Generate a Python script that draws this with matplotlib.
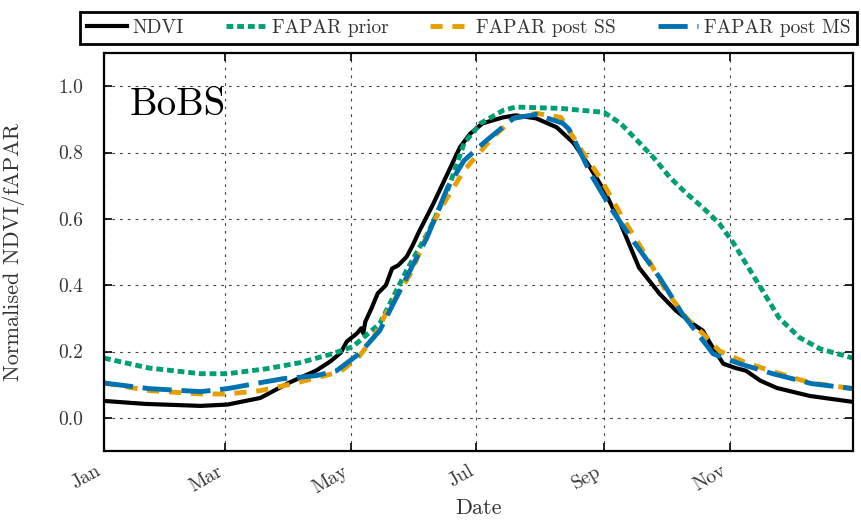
import numpy as np
import matplotlib
matplotlib.use("Agg")
import matplotlib.pyplot as plt

#--------------------------------------------------------------------------------------------------
# values (day of year, normalised value)
ndvi_day = [0, 20, 47, 60, 76, 90, 103, 110, 115, 118, 123, 125, 126, 127, 130, 133, 137, 140, 143,
            147, 150, 153, 160, 167, 173, 178, 184, 194, 200, 210, 220, 228, 235, 243, 251, 260, 270,
            278, 286, 291, 296, 301, 307, 312, 319, 327, 343, 364]
ndvi = [0.051, 0.042, 0.036, 0.040, 0.060, 0.106, 0.142, 0.170, 0.196, 0.230, 0.255, 0.270, 0.255,
        0.290, 0.330, 0.375, 0.400, 0.450, 0.460, 0.485, 0.520, 0.560, 0.645, 0.737, 0.816, 0.857,
        0.888, 0.906, 0.912, 0.903, 0.876, 0.830, 0.767, 0.686, 0.586, 0.453, 0.374, 0.323, 0.284,
        0.263, 0.210, 0.163, 0.150, 0.142, 0.112, 0.090, 0.066, 0.048]

prior_day = [0, 22, 47, 60, 79, 95, 111, 121, 134, 147, 158, 167, 175, 183, 194, 200, 222, 243,
             251, 259, 267, 275, 283, 291, 299, 306, 312, 320, 328, 338, 348, 364]
prior = [0.180, 0.150, 0.133, 0.133, 0.148, 0.166, 0.193, 0.215, 0.284, 0.444, 0.565, 0.686,
         0.828, 0.888, 0.927, 0.937, 0.933, 0.921, 0.888, 0.837, 0.785, 0.725, 0.677, 0.634,
         0.586, 0.526, 0.465, 0.384, 0.302, 0.242, 0.208, 0.180]

ss_day = [0, 22, 47, 60, 76, 92, 111, 115, 124, 131, 137, 149, 158, 165, 175, 189, 199, 210, 222,
          233, 241, 252, 264, 273, 283, 293, 299, 312, 327, 343, 364]
ss = [0.105, 0.082, 0.072, 0.072, 0.082, 0.103, 0.133, 0.140, 0.185, 0.242, 0.314, 0.435, 0.565,
      0.645, 0.746, 0.846, 0.903, 0.918, 0.906, 0.797, 0.725, 0.604, 0.483, 0.384, 0.302, 0.242,
      0.202, 0.166, 0.136, 0.106, 0.088]

ms_day = [0, 22, 47, 60, 76, 87, 103, 113, 124, 134, 147, 157, 167, 175, 186, 199, 210, 223, 226,
          237, 247, 257, 270, 281, 290, 296, 309, 325, 344, 364]
ms = [0.105, 0.088, 0.079, 0.088, 0.106, 0.118, 0.127, 0.142, 0.193, 0.263, 0.423, 0.544, 0.695,
      0.776, 0.837, 0.903, 0.915, 0.888, 0.870, 0.730, 0.625, 0.535, 0.423, 0.314, 0.242, 0.193,
      0.163, 0.133, 0.103, 0.088]

month_days = [0, 59, 120, 181, 243, 304]
month_labels = ["Jan", "Mar", "May", "Jul", "Sep", "Nov"]
y_ticks = [0.0, 0.2, 0.4, 0.6, 0.8, 1.0]

#--------------------------------------------------------------------------------------------------
plt.rcParams["font.family"] = ["cmr10", "DejaVu Serif"]
plt.rcParams["mathtext.fontset"] = "cm"
plt.rcParams["axes.formatter.use_mathtext"] = True

txt = "#333333"
fig = plt.figure(figsize=(8.61, 5.23), dpi=100)
ax = fig.add_axes([104 / 861, 72 / 523, 749 / 861, 398 / 523])

ax.plot(ndvi_day, ndvi, color="black", lw=3, label="NDVI")
ax.plot(prior_day, prior, color="#009E73", lw=3.5, dashes=(1.4, 0.8), label="FAPAR prior")
ax.plot(ss_day, ss, color="#E69F00", lw=3.5, dashes=(2.5, 2.0), label="FAPAR post SS")
ax.plot(ms_day, ms, color="#0072B2", lw=3.5, dashes=(6, 2), label="FAPAR post MS")

ax.set_xlim(0, 364)
ax.set_ylim(-0.1, 1.1)
ax.set_xticks(month_days)
ax.set_xticklabels(month_labels, rotation=30, ha="right")
ax.set_yticks(y_ticks)
ax.set_yticklabels(["%.1f" % v for v in y_ticks])

ax.grid(True, color="#444444", lw=0.8, linestyle=(0, (2.5, 4.5)))
ax.tick_params(axis="both", direction="in", length=6, width=1.2, top=True, right=True,
               labelsize=14, labelcolor=txt)
ax.tick_params(axis="y", pad=15)
ax.tick_params(axis="x", pad=8)
for sp in ax.spines.values():
    sp.set_linewidth(1.6)

ax.set_xlabel("Date", fontsize=16, color=txt)
ax.xaxis.set_label_coords(0.5, -0.12)
ax.set_ylabel("Normalised NDVI/fAPAR", fontsize=16, color=txt)
ax.yaxis.set_label_coords(-0.105, 0.5)

ax.text(0.034, 0.844, "BoBS", transform=ax.transAxes, fontsize=28, va="baseline", ha="left")

# legend box across the top
leg = fig.legend(loc="lower left", bbox_to_anchor=(80 / 861, 479 / 523, 777 / 861, 37 / 523),
                 mode="expand", ncol=4, fontsize=14, borderaxespad=0, borderpad=0.35,
                 handlelength=2.06, handletextpad=0.3, fancybox=False, framealpha=1)
leg.get_frame().set_edgecolor("black")
leg.get_frame().set_linewidth(2)
for t in leg.get_texts():
    t.set_color(txt)

fig.savefig("out.png", dpi=100)
